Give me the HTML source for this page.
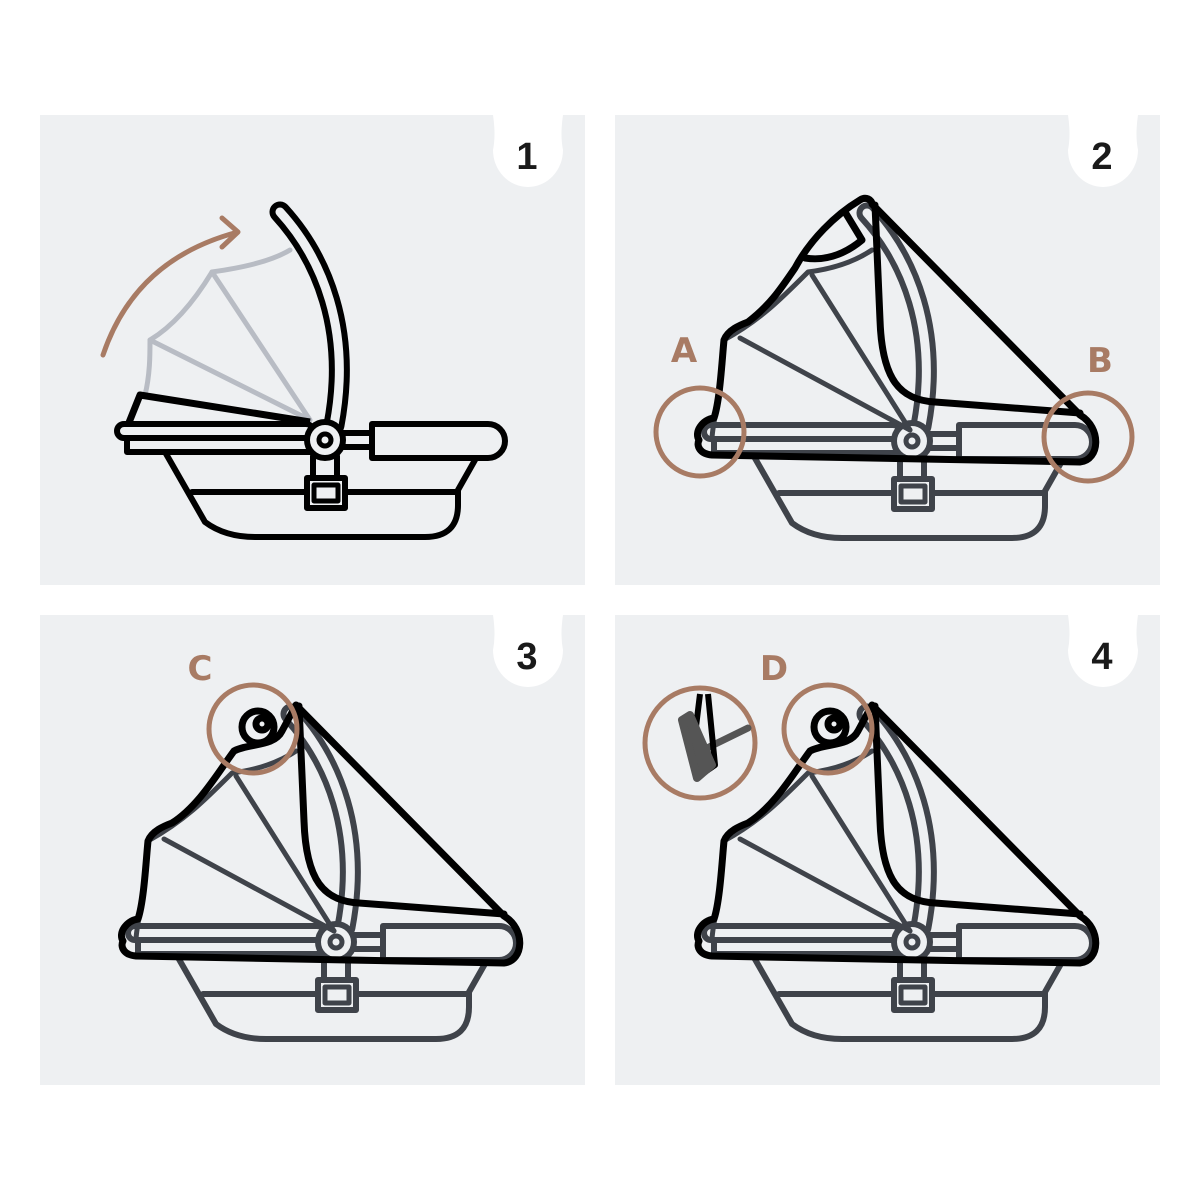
<!DOCTYPE html>
<html><head><meta charset="utf-8"><style>
html,body{margin:0;padding:0;background:#fff;}
svg{display:block}
.lbl{font-family:"DejaVu Sans","Liberation Sans",sans-serif;fill:#a87b64;font-size:34px;font-weight:bold;}
.num{font-family:"Liberation Sans",sans-serif;font-weight:bold;font-size:38px;fill:#1a1a1a;}
</style></head><body>
<svg width="1200" height="1200" viewBox="0 0 1200 1200" xmlns="http://www.w3.org/2000/svg">
<defs>
<g id="carrier" fill="none" stroke-linejoin="round" stroke-linecap="round">
  <path d="M165,452 L205,522 Q225,537 255,537 L425,537 Q458,537 458,505 L458,490 L475,460" stroke-width="6"/>
  <path d="M192,492 L458,492" stroke-width="6"/>
  <path d="M280,212 C322,258 352,330 334,425" stroke-width="21"/>
  <path d="M280,212 C322,258 352,330 334,425" stroke="#eef0f2" stroke-width="9"/>
  <rect x="117" y="424" width="196" height="14" rx="7" fill="#eef0f2" stroke-width="6"/>
  <rect x="127" y="438" width="186" height="14" fill="#eef0f2" stroke-width="6"/>
  <rect x="340" y="433" width="34" height="14" fill="#eef0f2" stroke-width="6"/>
  <path d="M372,424 H488 A17,17 0 0 1 488,458 H372 Z" fill="#eef0f2" stroke-width="6"/>
  <rect x="313" y="456" width="24" height="24" fill="#eef0f2" stroke-width="6"/>
  <rect x="307" y="478" width="38" height="30" fill="#eef0f2" stroke-width="6"/>
  <rect x="314" y="485" width="24" height="16" fill="#eef0f2" stroke-width="5"/>
  <circle cx="325" cy="440" r="18" fill="#eef0f2" stroke-width="6"/>
  <circle cx="325" cy="440" r="6" stroke-width="5"/>
</g>
<g id="ribs" fill="none" stroke="#3f434a" stroke-width="5" stroke-linecap="round" stroke-linejoin="round">
  <path d="M910,430 L740,338"/>
  <path d="M910,430 L812,275"/>
  <path d="M712,440 C712,420 722,400 724,340 C760,320 780,300 808,272 C840,268 860,258 872,250"/>
</g>
</defs>

<rect x="40" y="115" width="545" height="470" fill="#eef0f2"/>
<rect x="615" y="115" width="545" height="470" fill="#eef0f2"/>
<rect x="40" y="615" width="545" height="470" fill="#eef0f2"/>
<rect x="615" y="615" width="545" height="470" fill="#eef0f2"/>

<g fill="#fff">
<path d="M493,115 H563 Q560,135 563,150 A35,37 0 0 1 493,150 Q496,135 493,115 Z"/>
<path d="M1068,115 H1138 Q1135,135 1138,150 A35,37 0 0 1 1068,150 Q1071,135 1068,115 Z"/>
<path d="M493,615 H563 Q560,635 563,650 A35,37 0 0 1 493,650 Q496,635 493,615 Z"/>
<path d="M1068,615 H1138 Q1135,635 1138,650 A35,37 0 0 1 1068,650 Q1071,635 1068,615 Z"/>
</g>
<text class="num" x="527" y="169" text-anchor="middle">1</text>
<text class="num" x="1102" y="169" text-anchor="middle">2</text>
<text class="num" x="527" y="669" text-anchor="middle">3</text>
<text class="num" x="1102" y="669" text-anchor="middle">4</text>

<!-- PANEL 1 -->
<g fill="none" stroke="#b8bcc4" stroke-width="5" stroke-linecap="round" stroke-linejoin="round">
  <path d="M145,395 C150,375 150,355 150,340 C175,325 195,300 212,272 C240,268 270,262 290,250"/>
  <path d="M150,340 L310,420 M212,272 L310,420"/>
</g>
<path d="M103,355 C125,290 170,250 238,232 M222,218 L238,232 L222,247" fill="none" stroke="#a87b64" stroke-width="5" stroke-linecap="round" stroke-linejoin="round"/>
<use href="#carrier" stroke="#000"/>
<path d="M128,425 L140,395 L310,422" fill="none" stroke="#000" stroke-width="7" stroke-linejoin="round"/>

<!-- PANEL 2 -->
<g transform="translate(587,1)"><use href="#carrier" stroke="#3f434a"/></g>
<use href="#ribs"/>
<g fill="none" stroke="#000" stroke-width="7" stroke-linejoin="round" stroke-linecap="round">
  <path d="M1080,462 L712,455 C700,454 696,446 699,440 C694,432 702,420 714,418 C720,400 722,360 724,340 C728,330 740,325 748,322 C770,305 780,290 795,268 C810,240 835,215 860,200 C866,196 872,200 872,204 L1080,415 C1102,428 1100,460 1080,462 Z"/>
  <path d="M875,205 L880,320 C882,380 900,400 935,402 L1080,413"/>
  <path d="M805,258 C830,262 850,250 862,240 L845,212"/>
</g>
<g fill="none" stroke="#a87b64" stroke-width="5">
  <circle cx="700" cy="432" r="44"/>
  <circle cx="1088" cy="437" r="44"/>
</g>
<text class="lbl" x="684" y="362" text-anchor="middle">A</text>
<text class="lbl" x="1100" y="372" text-anchor="middle">B</text>

<!-- PANEL 3 -->
<g transform="translate(-576,501)">
  <g transform="translate(587,1)"><use href="#carrier" stroke="#3f434a"/></g>
  <use href="#ribs"/>
  <g fill="none" stroke="#000" stroke-width="7" stroke-linejoin="round" stroke-linecap="round">
    <path d="M1080,462 L712,455 C700,454 696,446 699,440 C694,432 702,420 714,418 C720,400 722,360 724,340 C728,330 740,325 748,322 C775,305 795,270 810,250 C825,242 850,246 858,230 L872,204 L1080,415 C1102,428 1100,460 1080,462 Z"/>
    <path d="M875,205 L880,320 C882,380 900,400 935,402 L1080,413"/>
    <circle cx="834" cy="226" r="16"/>
    <circle cx="838" cy="223" r="6"/>
  </g>
</g>
<circle cx="253" cy="729" r="44" fill="none" stroke="#a87b64" stroke-width="5"/>
<text class="lbl" x="200" y="680" text-anchor="middle">C</text>

<!-- PANEL 4 -->
<g transform="translate(0,501)">
  <g transform="translate(587,1)"><use href="#carrier" stroke="#3f434a"/></g>
  <use href="#ribs"/>
  <g fill="none" stroke="#000" stroke-width="7" stroke-linejoin="round" stroke-linecap="round">
    <path d="M1080,462 L712,455 C700,454 696,446 699,440 C694,432 702,420 714,418 C720,400 722,360 724,340 C728,330 740,325 748,322 C775,305 795,270 810,250 C825,242 850,246 858,230 L872,204 L1080,415 C1102,428 1100,460 1080,462 Z"/>
    <path d="M875,205 L880,320 C882,380 900,400 935,402 L1080,413"/>
    <circle cx="830" cy="226" r="16"/>
    <circle cx="834" cy="223" r="6"/>
  </g>
</g>
<circle cx="828" cy="729" r="44" fill="none" stroke="#a87b64" stroke-width="5"/>
<circle cx="700" cy="743" r="55" fill="none" stroke="#a87b64" stroke-width="5"/>
<path d="M703,750 L748,728" stroke="#555" stroke-width="7" fill="none" stroke-linecap="round"/>
<path d="M700,694 L695,735 L705,772 L715,765 L708,694" stroke="#000" stroke-width="6" fill="none" stroke-linejoin="round"/>
<path d="M682,720 L690,715 L712,765 L697,778 Z" fill="#555" stroke="#555" stroke-width="8" stroke-linejoin="round"/>
<text class="lbl" x="774" y="680" text-anchor="middle">D</text>
</svg>
</body></html>
